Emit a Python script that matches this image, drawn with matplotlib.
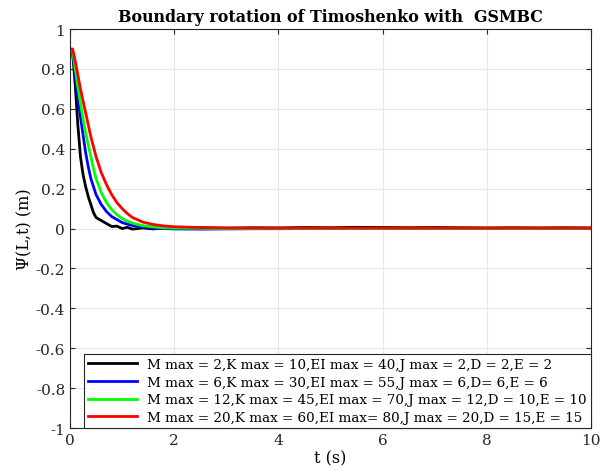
import numpy as np
import matplotlib
matplotlib.use("Agg")
import matplotlib.pyplot as plt
from matplotlib.ticker import FormatStrFormatter

plt.rcParams['font.family'] = ['DejaVu Serif']
plt.rcParams['axes.unicode_minus'] = False

# time samples (s)
t = [0, 0.05, 0.1, 0.15, 0.2, 0.25, 0.3, 0.35, 0.4, 0.45, 0.5, 0.6, 0.7, 0.8, 0.9,
     1.0, 1.1, 1.2, 1.4, 1.6, 1.8, 2.0, 2.5, 3.0, 3.5, 4.0, 4.5, 5.0, 5.5, 6.0,
     6.5, 7.0, 7.5, 8.0, 8.5, 9.0, 9.5, 10.0]

psi_1 = [0.9, 0.88, 0.72, 0.52, 0.36, 0.27, 0.21, 0.16, 0.12, 0.08, 0.055, 0.04, 0.025,
         0.01, 0.012, 0.0, 0.006, -0.003, 0.003, -0.002, 0.003, 0.0, 0.004, 0.002, 0.004,
         0.003, 0.005, 0.004, 0.006, 0.005, 0.004, 0.005, 0.004, 0.003, 0.004, 0.003, 0.004, 0.003]
psi_2 = [0.9, 0.88, 0.77, 0.66, 0.56, 0.47, 0.38, 0.31, 0.25, 0.21, 0.17, 0.12, 0.085,
         0.06, 0.045, 0.03, 0.022, 0.015, 0.007, 0.002, 0.0, -0.002, -0.003, -0.002, -0.001,
         -0.001, 0.0, 0.0, 0.001, 0.0, 0.0, 0.001, 0.0, 0.0, 0.0, 0.0, 0.0, 0.0]
psi_3 = [0.9, 0.89, 0.8, 0.71, 0.63, 0.55, 0.48, 0.42, 0.36, 0.3, 0.25, 0.18, 0.13,
         0.095, 0.07, 0.05, 0.037, 0.027, 0.014, 0.008, 0.004, 0.002, 0.001, 0.0, 0.0,
         0.0, 0.0, 0.0, 0.0, 0.0, 0.0, 0.0, 0.0, 0.0, 0.0, 0.0, 0.0, 0.0]
psi_4 = [0.9, 0.9, 0.84, 0.77, 0.7, 0.64, 0.58, 0.52, 0.46, 0.41, 0.36, 0.28, 0.22,
         0.17, 0.13, 0.1, 0.075, 0.055, 0.032, 0.02, 0.013, 0.009, 0.005, 0.003, 0.002,
         0.002, 0.002, 0.002, 0.002, 0.002, 0.002, 0.002, 0.002, 0.002, 0.002, 0.002, 0.002, 0.002]

labels = ['M max = 2,K max = 10,EI max = 40,J max = 2,D = 2,E = 2',
          'M max = 6,K max = 30,EI max = 55,J max = 6,D= 6,E = 6',
          'M max = 12,K max = 45,EI max = 70,J max = 12,D = 10,E = 10',
          'M max = 20,K max = 60,EI max= 80,J max = 20,D = 15,E = 15']
colors = ['k', 'b', '#00ff00', 'r']
yticks = [-1, -0.8, -0.6, -0.4, -0.2, 0, 0.2, 0.4, 0.6, 0.8, 1]

fig = plt.figure(figsize=(6.09, 4.77), dpi=100)
ax = fig.add_axes([0.115, 0.1006, 0.8554, 0.8364])

for y, lab, c in zip([psi_1, psi_2, psi_3, psi_4], labels, colors):
    ax.plot(t, y, color=c, lw=2, label=lab)

ax.set_xlim(0, 10)
ax.set_ylim(-1, 1)
ax.set_xticks(np.arange(0, 11, 2))
ax.set_yticks(yticks)
ax.yaxis.set_major_formatter(FormatStrFormatter('%g'))
ax.grid(True, color='#e6e6e6', lw=0.8)
ax.tick_params(direction='in', top=True, right=True, labelsize=11, colors='#262626',
               labelcolor='#262626')
for s in ax.spines.values():
    s.set_color('#262626')

ax.set_xlabel('t (s)', fontsize=11.5, labelpad=2)
ax.set_ylabel('Ψ(L,t) (m)', fontsize=11.5, labelpad=2)
ax.set_title('Boundary rotation of Timoshenko with  GSMBC', fontsize=11.4, fontweight='bold', pad=6)

leg = ax.legend(loc='lower right', fontsize=9.7, fancybox=False, framealpha=1,
                edgecolor='#262626', borderaxespad=0, handlelength=3.6,
                labelspacing=0.35, borderpad=0.3, handletextpad=0.8)
leg.get_frame().set_linewidth(0.8)

fig.savefig('out.png', dpi=100)
